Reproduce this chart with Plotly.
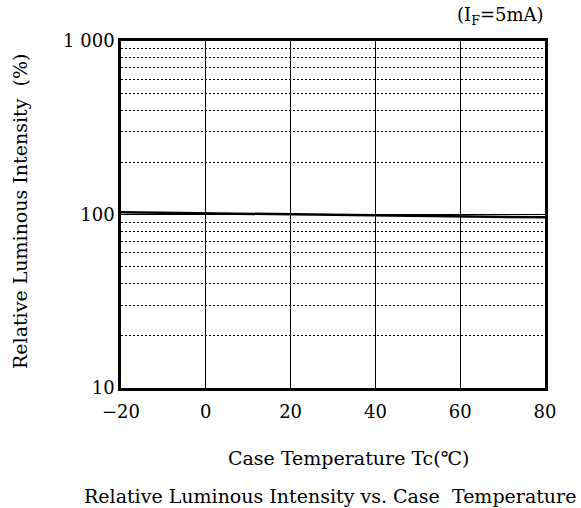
import plotly.graph_objects as go

temps = [-20, 0, 20, 40, 60, 80]
intensity = [103, 101.5, 100, 98.5, 97, 96.3]

x_ticks = [-20, 0, 20, 40, 60, 80]
y_ticks = [10, 100, 1000]
y_tick_text = ["10", "100", "1 000"]
y_minor = [20, 30, 40, 50, 60, 70, 80, 90, 200, 300, 400, 500, 600, 700, 800, 900]

FONT = "DejaVu Serif, Liberation Serif, serif"
FS = 18
FT = 19

W, H = 581, 508
l, r, t, b = 121, 36, 41, 120
pw, ph = W - l - r, H - t - b

def px(xp):
    return (xp - l) / pw

def py(yp):
    return (H - b - yp) / ph

fig = go.Figure()
fig.add_trace(go.Scatter(x=temps, y=intensity, mode="lines",
                         line=dict(color="black", width=2.5), showlegend=False,
                         hoverinfo="skip"))

fig.update_layout(
    width=W, height=H,
    margin=dict(l=l, r=r, t=t, b=b),
    paper_bgcolor="white", plot_bgcolor="white",
    font=dict(family=FONT, size=FS, color="black"),
    xaxis=dict(range=[-20, 80], tickvals=x_ticks, showgrid=True, gridcolor="black",
               gridwidth=1, showline=True, linecolor="black", linewidth=2.5, mirror=True,
               ticks="", zeroline=False, ticklabelstandoff=6,
               tickfont=dict(size=FS, family=FONT)),
    yaxis=dict(type="log", range=[1, 3], tickvals=y_ticks, ticktext=y_tick_text,
               showgrid=True, gridcolor="black", gridwidth=1,
               showline=True, linecolor="black", linewidth=2.5, mirror=True,
               ticks="", zeroline=False, tickfont=dict(size=FS, family=FONT),
               minor=dict(tickvals=y_minor, showgrid=True, gridcolor="black",
                          griddash="2px,2px", gridwidth=1, ticks="")),
)

fig.add_annotation(text="(I<sub>F</sub>=5mA)", x=px(546), y=py(16), xref="paper", yref="paper",
                   xanchor="right", yanchor="middle", showarrow=False,
                   font=dict(size=FS, family=FONT))
fig.add_annotation(text="Relative Luminous Intensity  (%)", x=px(20), y=py(212),
                   xref="paper", yref="paper", textangle=-90, xanchor="center",
                   yanchor="middle", showarrow=False, font=dict(size=FT, family=FONT))
fig.add_annotation(text="Case Temperature Tc(℃)", x=px(348), y=py(458),
                   xref="paper", yref="paper", xanchor="center", yanchor="middle",
                   showarrow=False, font=dict(size=FT, family=FONT))
fig.add_annotation(text="Relative Luminous Intensity vs. Case  Temperature", x=px(330), y=py(496),
                   xref="paper", yref="paper", xanchor="center", yanchor="middle",
                   showarrow=False, font=dict(size=FT, family=FONT))

fig.write_html("out.html")
